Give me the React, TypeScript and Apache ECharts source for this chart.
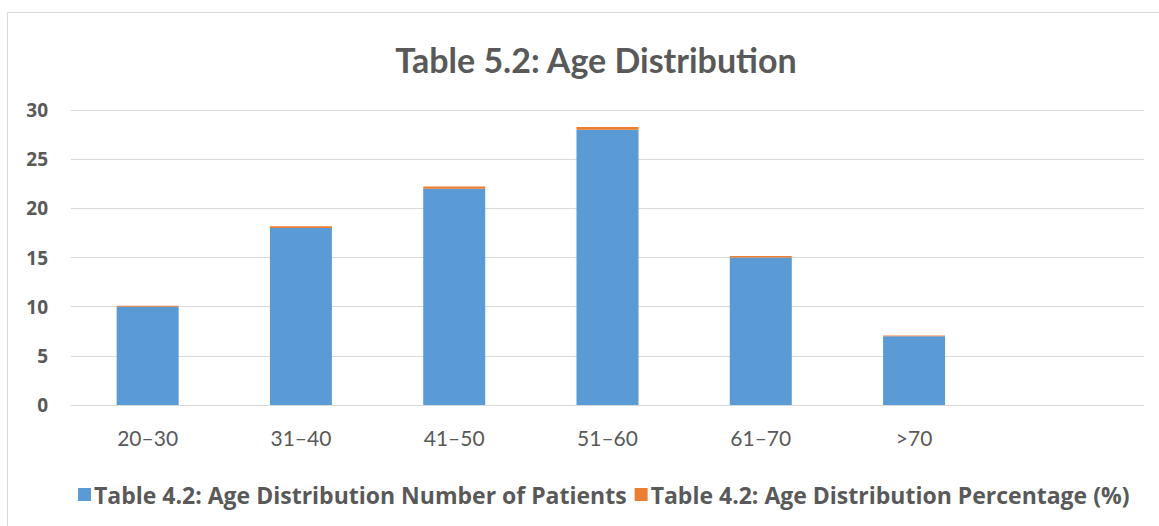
import React, { useEffect, useRef } from "react";
import * as echarts from "echarts";

const categories = ["20–30", "31–40", "41–50", "51–60", "61–70", ">70", ""];
const patients = [10, 18, 22, 28, 15, 7, null];
const percentages = [0.1, 0.18, 0.22, 0.28, 0.15, 0.07, null];
const yTicks = [0, 5, 10, 15, 20, 25, 30];

export default function App() {
  const ref = useRef<HTMLDivElement>(null);
  useEffect(() => {
    const chart = echarts.init(ref.current!, null, { renderer: "svg" });
    const font = "Lato, 'Liberation Sans', sans-serif";
    const wide = "'Open Sans', 'Liberation Sans', sans-serif";
    chart.setOption({
      animation: false,
      backgroundColor: "#ffffff",
      title: {
        text: "Table 5.2: Age Distribution",
        left: 591,
        textAlign: "center",
        top: 37,
        textStyle: { fontFamily: font, fontSize: 34, fontWeight: "bold", color: "#595959" },
      },
      graphic: [
        {
          type: "rect",
          shape: { x: 7.5, y: 12.5, width: 1200, height: 600 },
          style: { fill: "none", stroke: "#d9d9d9", lineWidth: 1 },
          silent: true,
        },
      ],
      legend: {
        bottom: 15,
        left: 73,
        itemWidth: 13,
        itemHeight: 13,
        itemGap: 8,
        icon: "rect",
        textStyle: { fontFamily: wide, fontSize: 23, fontWeight: "bold", color: "#595959", padding: [0, 0, 0, -2] },
        data: ["Table 4.2: Age Distribution Number of Patients", "Table 4.2: Age Distribution Percentage (%)"],
      },
      grid: { left: 71, right: 15, top: 110, bottom: 121 },
      xAxis: {
        type: "category",
        data: categories,
        axisLine: { lineStyle: { color: "#d9d9d9", width: 1 } },
        axisTick: { show: false },
        axisLabel: { fontFamily: font, fontSize: 21, color: "#595959", margin: 22 },
      },
      yAxis: {
        type: "value",
        min: yTicks[0],
        max: yTicks[yTicks.length - 1],
        interval: 5,
        axisLine: { show: false },
        axisTick: { show: false },
        splitLine: { lineStyle: { color: "#d9d9d9", width: 1 } },
        axisLabel: { fontFamily: wide, fontSize: 19, fontWeight: "bold", color: "#595959", margin: 23 },
      },
      series: [
        {
          name: "Table 4.2: Age Distribution Number of Patients",
          type: "bar",
          stack: "s",
          data: patients,
          barWidth: 62,
          itemStyle: { color: "#5b9bd5" },
        },
        {
          name: "Table 4.2: Age Distribution Percentage (%)",
          type: "bar",
          stack: "s",
          data: percentages,
          barWidth: 62,
          itemStyle: { color: "#ed7d31" },
        },
      ],
    });
    return () => chart.dispose();
  }, []);
  return (
    <div
      ref={ref}
      style={{ position: "absolute", left: 0, top: 0, width: 1159, height: 526 }}
    />
  );
}
